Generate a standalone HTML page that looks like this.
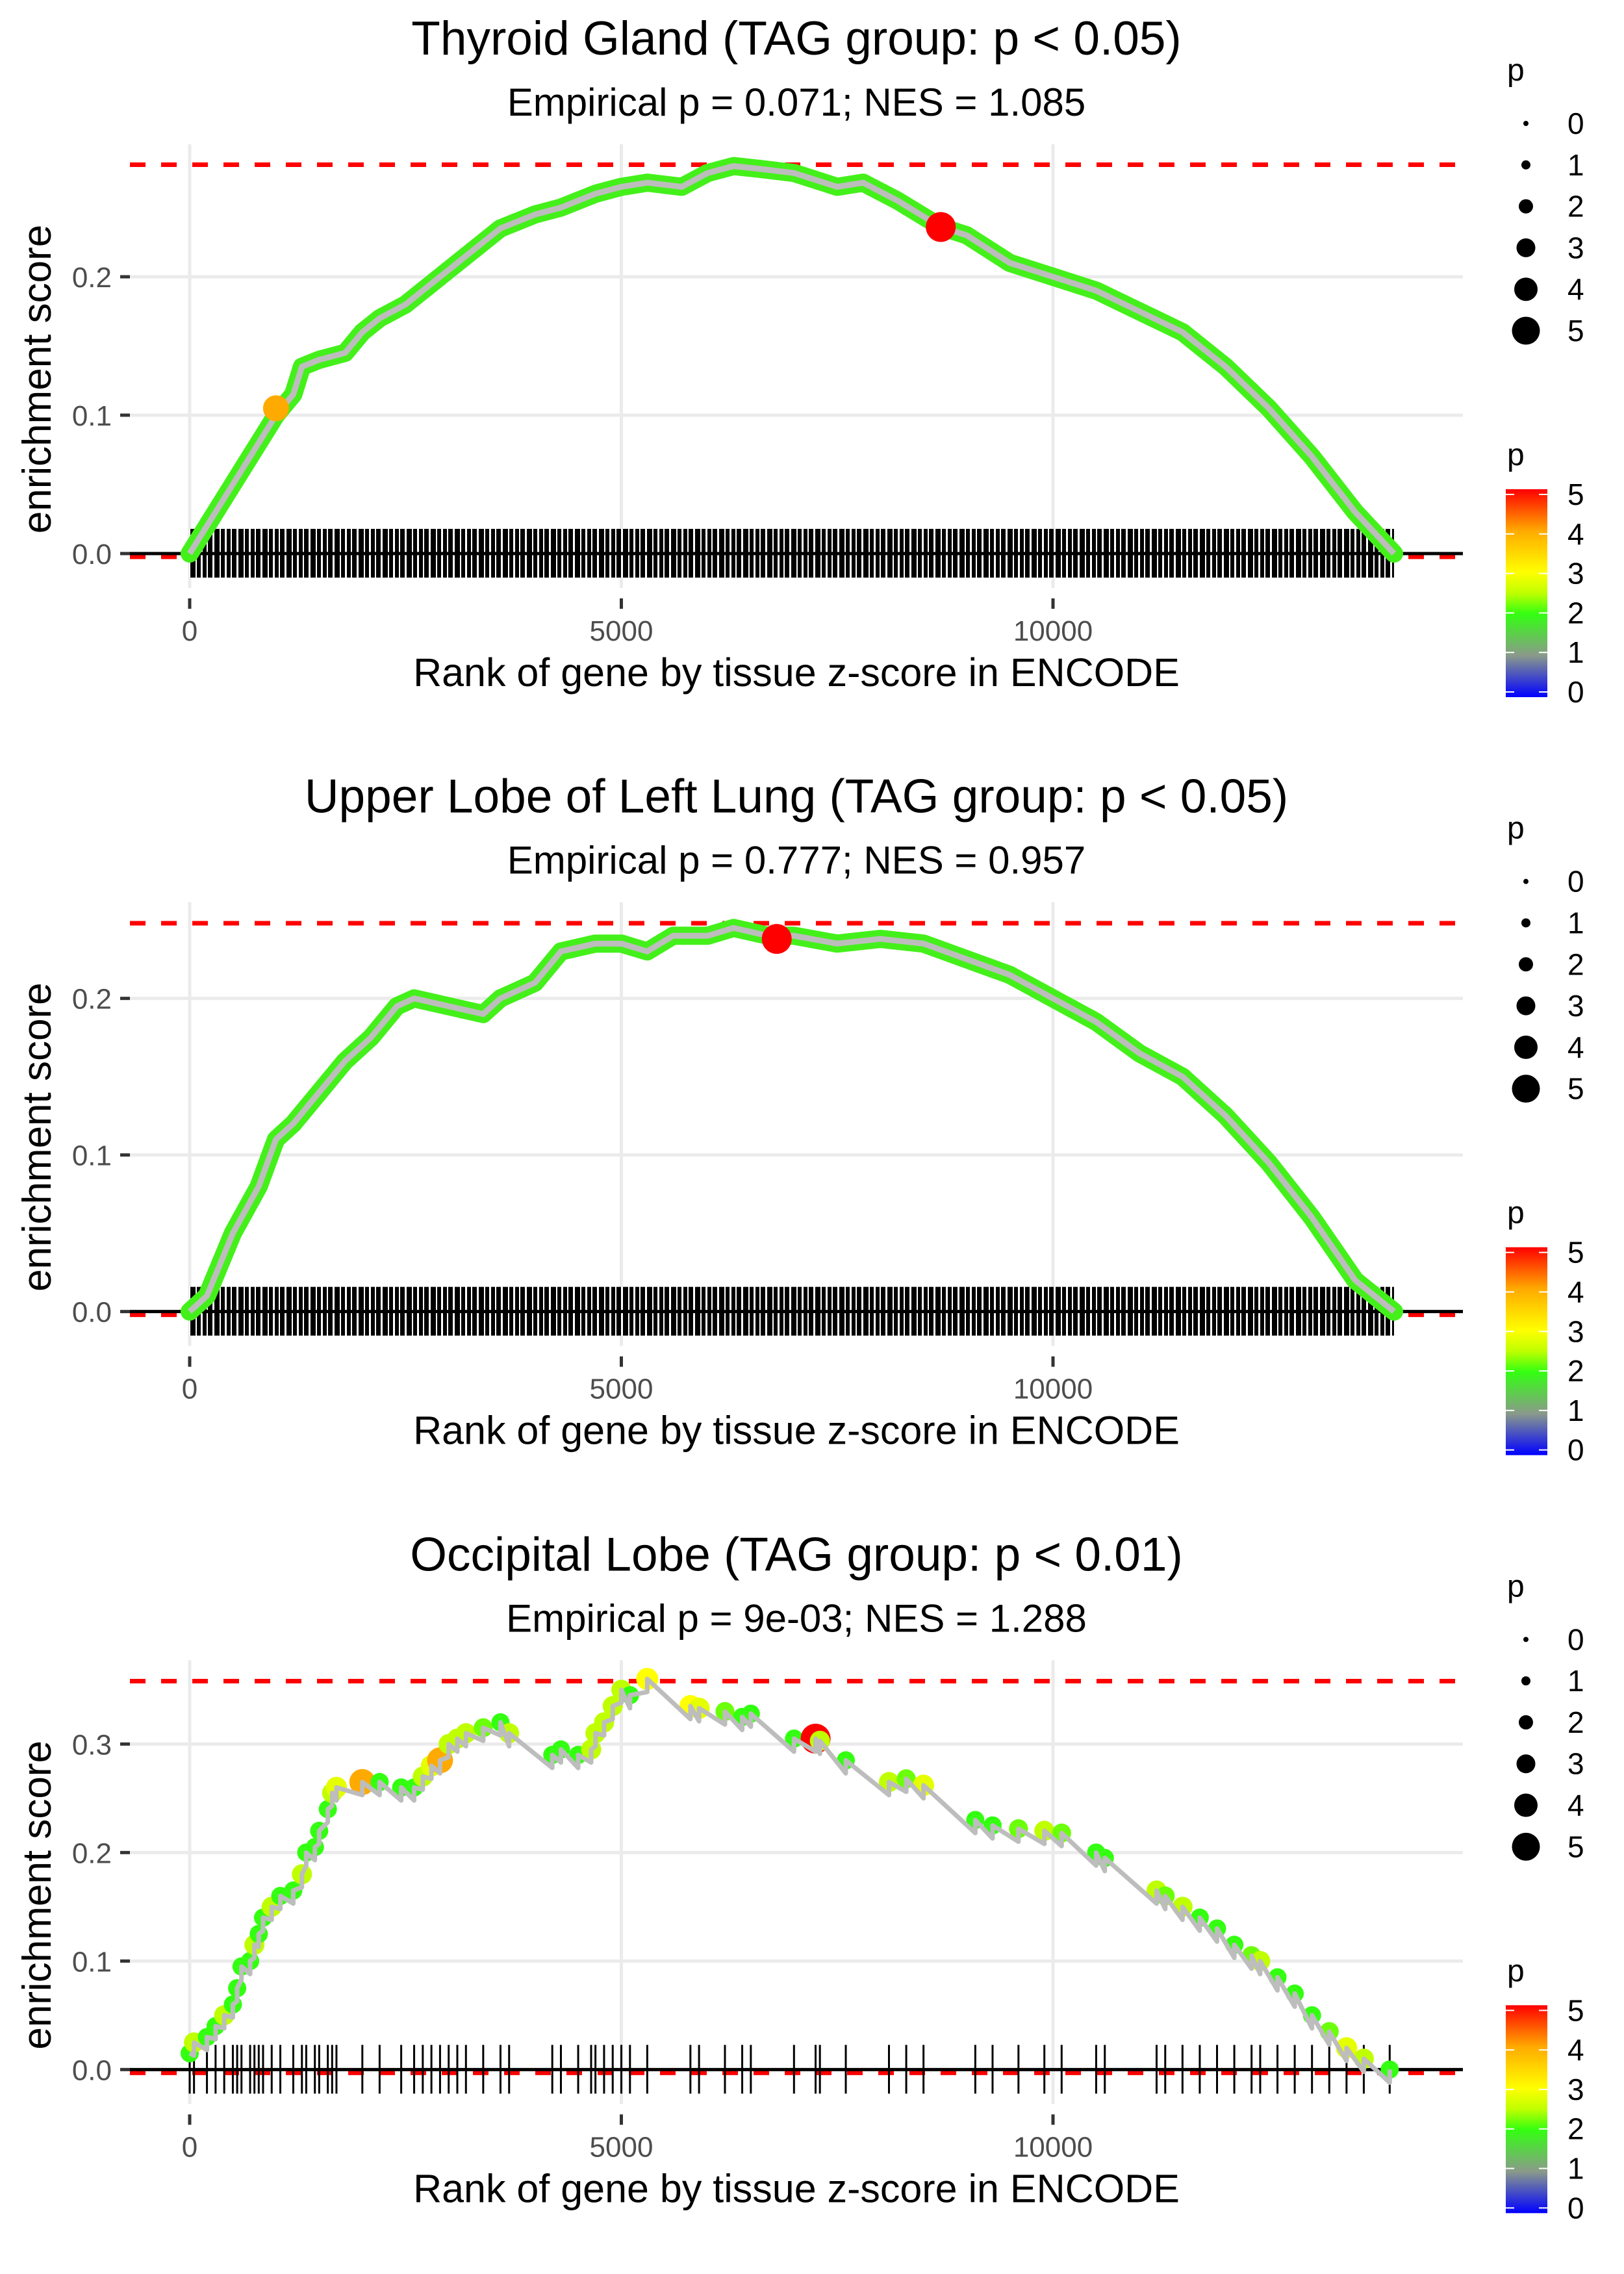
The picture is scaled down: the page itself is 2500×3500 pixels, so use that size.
<!DOCTYPE html>
<html><head><meta charset="utf-8">
<style>
html,body{margin:0;padding:0;background:#fff;}
svg{display:block;font-family:"Liberation Sans",sans-serif;}
</style></head>
<body>
<svg id="chart" width="2500" height="3500" viewBox="0 0 2500 3500" xmlns="http://www.w3.org/2000/svg">
<defs>
<linearGradient id="pgrad" x1="0" y1="1" x2="0" y2="0">
<stop offset="0" stop-color="#0000ff"/>
<stop offset="0.2" stop-color="#8a9a8a"/>
<stop offset="0.4" stop-color="#33ff11"/>
<stop offset="0.5" stop-color="#bfff00"/>
<stop offset="0.6" stop-color="#ffff00"/>
<stop offset="0.8" stop-color="#ffaa00"/>
<stop offset="1" stop-color="#ff0000"/>
</linearGradient>
<pattern id="rugpat" patternUnits="userSpaceOnUse" width="37" height="10">
<rect x="0" y="0" width="37" height="10" fill="#000"/>
<rect x="5" y="0" width="2" height="10" fill="#fff"/>
<rect x="13" y="0" width="3" height="10" fill="#fff"/>
<rect x="22" y="0" width="2" height="10" fill="#fff"/>
<rect x="31" y="0" width="3" height="10" fill="#fff"/>
</pattern>
</defs>
</svg>
<script>
// ---- data ----
const titles = ["Thyroid Gland (TAG group: p < 0.05)","Upper Lobe of Left Lung (TAG group: p < 0.05)","Occipital Lobe (TAG group: p < 0.01)"];
const subtitles = ["Empirical p = 0.071; NES = 1.085","Empirical p = 0.777; NES = 0.957","Empirical p = 9e-03; NES = 1.288"];
const yMaxES = [0.281, 0.248, 0.358];
const yTicks = [[0,0.1,0.2],[0,0.1,0.2],[0,0.1,0.2,0.3]];
const xTicks = [0,5000,10000];
const xTickLabels = ["0","5000","10000"];
const sizeLegendValues = [0,1,2,3,4,5];

const p1Rank = [0,300,600,1000,1200,1300,1500,1800,2000,2200,2500,2800,3000,3300,3600,4000,4300,4700,5000,5300,5700,6000,6300,6600,7000,7500,7800,8200,8700,9000,9500,10000,10500,11000,11500,12000,12500,13000,13500,13950];
const p1ES   = [0,0.03,0.06,0.10,0.115,0.135,0.14,0.145,0.16,0.17,0.18,0.195,0.205,0.22,0.235,0.245,0.25,0.26,0.265,0.268,0.265,0.275,0.28,0.278,0.275,0.265,0.268,0.255,0.236,0.23,0.21,0.2,0.19,0.175,0.16,0.135,0.105,0.07,0.03,0];
const p1BigRank = [1000,8700];
const p1BigES = [0.105,0.236];
const p1BigP = [4,5];

const p2Rank = [0,200,500,800,1000,1200,1500,1800,2100,2400,2600,3000,3400,3600,4000,4300,4700,5000,5300,5600,6000,6300,6700,7000,7500,8000,8500,9000,9500,10000,10500,11000,11500,12000,12500,13000,13500,13950];
const p2ES   = [0,0.01,0.05,0.08,0.11,0.12,0.14,0.16,0.175,0.195,0.2,0.195,0.19,0.2,0.21,0.23,0.235,0.235,0.23,0.24,0.24,0.245,0.24,0.24,0.235,0.238,0.235,0.225,0.215,0.2,0.185,0.165,0.15,0.125,0.095,0.06,0.02,0];
const p2BigRank = [6800];
const p2BigES = [0.238];
const p2BigP = [5];

const p3Rank = [0,50,200,300,400,500,550,600,700,750,800,850,950,1050,1200,1300,1350,1450,1500,1600,1650,1700,2000,2200,2450,2600,2700,2800,2900,3000,3100,3200,3400,3600,3700,4200,4300,4500,4650,4700,4800,4900,5000,5100,5300,5800,5900,6200,6400,6500,7000,7250,7300,7600,8100,8300,8500,9100,9300,9600,9900,10100,10500,10600,11200,11300,11500,11700,11900,12100,12300,12400,12600,12800,13000,13200,13400,13600,13900];
const p3ES   = [0.015,0.025,0.03,0.04,0.05,0.06,0.075,0.095,0.1,0.115,0.125,0.14,0.15,0.16,0.165,0.18,0.2,0.205,0.22,0.24,0.255,0.26,0.265,0.265,0.26,0.26,0.27,0.28,0.285,0.3,0.305,0.31,0.315,0.32,0.31,0.29,0.295,0.29,0.295,0.31,0.32,0.335,0.35,0.345,0.36,0.335,0.333,0.33,0.325,0.328,0.305,0.305,0.303,0.285,0.265,0.268,0.262,0.23,0.225,0.222,0.22,0.218,0.2,0.195,0.165,0.16,0.15,0.14,0.13,0.115,0.105,0.1,0.085,0.07,0.05,0.035,0.02,0.01,0.0];
const p3P    = [2,2.5,2,2,2.5,2,2,2,2,2.5,2,2,2.5,2,2,2.5,2,2,2,2,2.5,2.8,4,2,2,2,2.5,2.8,4,2.5,2.5,2.5,2.2,2,2.5,2,2,2,2.5,2.5,2.5,2.5,2.5,2,3,3,2.8,2.2,2,2,2,5,2.5,2,2.5,2.2,2.8,2,2,2.2,2.5,2.2,2,2,2.5,2.2,2.5,2,2,2,2.2,2.5,2,2,2,2.2,2.8,2.5,2];

const panelCurves = [
  {rank:p1Rank, es:p1ES, bigR:p1BigRank, bigE:p1BigES, bigP:p1BigP, dense:true},
  {rank:p2Rank, es:p2ES, bigR:p2BigRank, bigE:p2BigES, bigP:p2BigP, dense:true},
  {rank:p3Rank, es:p3ES, p:p3P, dense:false}
];

// ---- layout ----
const NS="http://www.w3.org/2000/svg";
const svg=document.getElementById('chart');
const PH=3500/3, L=200, R=2252, T=222, B=905, Y0=852;
const unitPerPanel=[213/0.1,241/0.1,167/0.1];
function xs(r){return 292+r*0.1329;}
function mk(tag,attrs,parent){const e=document.createElementNS(NS,tag);for(const k in attrs)e.setAttribute(k,attrs[k]);(parent||svg).appendChild(e);return e;}
function pColor(p){
  const st=[[0,[0,0,255]],[1,[138,154,138]],[2,[51,255,17]],[2.5,[191,255,0]],[3,[255,255,0]],[4,[255,170,0]],[5,[255,0,0]]];
  for(let i=1;i<st.length;i++){if(p<=st[i][0]){const a=st[i-1],b=st[i];const t=(p-a[0])/(b[0]-a[0]);const c=a[1].map((v,j)=>Math.round(v+(b[1][j]-v)*t));return `rgb(${c})`;}}
  return 'rgb(255,0,0)';
}
function pR(p){return 8+p*3;}

for(let i=0;i<3;i++){
  const oy=i*PH, k=unitPerPanel[i];
  const ys=v=>oy+Y0-v*k;
  const g=mk('g',{});
  
  
  const t=mk('text',{x:1226,y:oy+84,'font-size':73,'text-anchor':'middle',fill:'#000'},g);t.textContent=titles[i];
  
  const st=mk('text',{x:1226,y:oy+178,'font-size':60,'text-anchor':'middle',fill:'#000'},g);st.textContent=subtitles[i];
  
  // grid
  xTicks.forEach((v,j)=>{
    const gl=mk('line',{x1:xs(v),x2:xs(v),y1:oy+T,y2:oy+B,stroke:'#ebebeb','stroke-width':5},g);
    
    mk('line',{x1:xs(v),x2:xs(v),y1:oy+921,y2:oy+937,stroke:'#333','stroke-width':5},g);
    const tl=mk('text',{x:xs(v),y:oy+986,'font-size':44,'text-anchor':'middle',fill:'#4d4d4d'},g);tl.textContent=xTickLabels[j];
    
  });
  yTicks[i].forEach(v=>{
    const gl=mk('line',{x1:L,x2:R,y1:ys(v),y2:ys(v),stroke:'#ebebeb','stroke-width':5},g);
    
    mk('line',{x1:185,x2:200,y1:ys(v),y2:ys(v),stroke:'#333','stroke-width':5},g);
    const tl=mk('text',{x:172,y:ys(v)+16,'font-size':44,'text-anchor':'end',fill:'#4d4d4d'},g);tl.textContent=v.toFixed(1);
    
  });
  const xt=mk('text',{x:1226,y:oy+1056,'font-size':61,'text-anchor':'middle',fill:'#000'},g);xt.textContent='Rank of gene by tissue z-score in ENCODE';
  
  const yt=mk('text',{x:0,y:0,'font-size':62,'text-anchor':'middle',fill:'#000',transform:`translate(78,${oy+(T+B)/2+20}) rotate(-90)`},g);yt.textContent='enrichment score';
  
  // red dashed lines
  [yMaxES[i],0].forEach((v,j)=>{
    const dl=mk('line',{x1:L,x2:R,y1:ys(v)+(j?5:0),y2:ys(v)+(j?5:0),stroke:'#ff0000','stroke-width':7,'stroke-dasharray':'24 24'},g);
    
  });
  const c=panelCurves[i];
  // rug
  if(c.dense){
    const rb=mk('rect',{x:xs(0),y:oy+Y0-38,width:xs(13950)-xs(0),height:75,fill:'url(#rugpat)'},g);
    
  } else {
    c.rank.forEach(r=>{
      const rl=mk('line',{x1:xs(r),x2:xs(r),y1:oy+Y0-38,y2:oy+Y0+37,stroke:'#000','stroke-width':3},g);
      
    });
  }
  const zl=mk('line',{x1:L,x2:R,y1:oy+Y0,y2:oy+Y0,stroke:'#000','stroke-width':5},g);
  
  // curve
  if(c.dense){
    const pts=c.rank.map((r,j)=>xs(r)+','+ys(c.es[j])).join(' ');
    const band=mk('polyline',{points:pts,fill:'none',stroke:'#44f01a','stroke-width':28,'stroke-linejoin':'round','stroke-linecap':'round'},g);
    
    const gl=mk('polyline',{points:pts,fill:'none',stroke:'#bdbdbd','stroke-width':9,'stroke-linejoin':'round'},g);
    
    c.bigR.forEach((r,j)=>{
      const pt=mk('circle',{cx:xs(r),cy:ys(c.bigE[j]),r:pR(c.bigP[j]),fill:pColor(c.bigP[j])},g);
      
    });
  } else {
    const dip=0.012; let pts=[];
    c.rank.forEach((r,j)=>{ if(j>0) pts.push(xs(r)+','+ys(c.es[j]-dip)); pts.push(xs(r)+','+ys(c.es[j])); });
    c.rank.forEach((r,j)=>{
      const pt=mk('circle',{cx:xs(r),cy:ys(c.es[j]),r:pR(c.p[j]),fill:pColor(c.p[j])},g);
      
    });
    const gl=mk('polyline',{points:pts.join(' '),fill:'none',stroke:'#bdbdbd','stroke-width':7,'stroke-linejoin':'round'},g);
    
  }
  // legends
  const lg=mk('g',{},g);
  
  const lt=mk('text',{x:2320,y:oy+124,'font-size':48,fill:'#000'},lg);lt.textContent='p';
  sizeLegendValues.forEach((v,j)=>{
    const cy=oy+190+j*63.8;
    mk('circle',{cx:2349,cy:cy,r:[4,7,11,14.5,18,21.5][j],fill:'#000'},lg);
    const tx=mk('text',{x:2413,y:cy+16,'font-size':46,fill:'#000'},lg);tx.textContent=String(v);
    
  });
  const cg=mk('g',{},g);
  
  const ct=mk('text',{x:2320,y:oy+716,'font-size':48,fill:'#000'},cg);ct.textContent='p';
  mk('rect',{x:2318,y:oy+753,width:64,height:320,fill:'url(#pgrad)'},cg);
  for(let v=0;v<=5;v++){
    const yy=oy+1065-v*60.8;
    mk('line',{x1:2318,x2:2331,y1:yy,y2:yy,stroke:'#fff','stroke-width':2},cg);
    mk('line',{x1:2369,x2:2382,y1:yy,y2:yy,stroke:'#fff','stroke-width':2},cg);
    const tx=mk('text',{x:2413,y:yy+16,'font-size':46,fill:'#000'},cg);tx.textContent=String(v);
    
  }
}
</script>
</body></html>
